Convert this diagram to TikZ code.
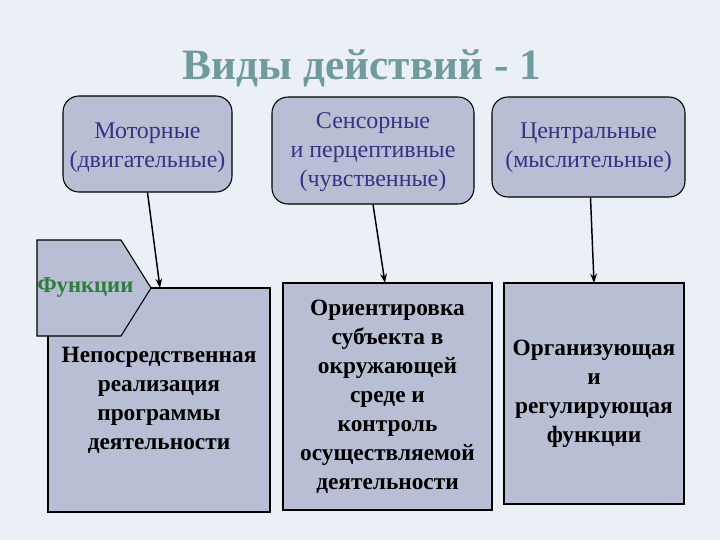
\documentclass[tikz,border=0pt]{standalone}
\usepackage{fontspec}
\setmainfont{Liberation Serif}
\usetikzlibrary{arrows.meta}
\definecolor{bgc}{RGB}{235,240,246}
\definecolor{boxc}{RGB}{184,191,213}
\definecolor{titlec}{RGB}{112,154,156}
\definecolor{topt}{RGB}{52,52,130}
\definecolor{funct}{RGB}{46,125,60}
\tikzset{
  topbox/.style={draw=black, line width=0.8pt, fill=boxc, rounded corners=12pt, align=center, text=topt, font=\fontsize{18}{21.8}\selectfont, inner sep=0pt},
  botbox/.style={draw=black, line width=0.8pt, fill=boxc, align=center, text=black, font=\bfseries\fontsize{17.5}{21.8}\selectfont, inner sep=0pt},
  arr/.style={-{Stealth[length=7pt,width=5pt]}, line width=1.1pt, black}
}
\begin{document}
\begin{tikzpicture}[x=0.75pt,y=-0.75pt]
\fill[bgc] (0,0) rectangle (720,540);
\useasboundingbox (0,0) rectangle (720,540);
\node[text=titlec, font=\bfseries\fontsize{32.5}{36}\selectfont] (title) at (362,68) {Виды действий - 1};
\node[topbox, minimum width=126.75pt, minimum height=72pt] (b1) at (147.5,144) {};
\node[topbox, draw=none, fill=none] (t1) at (147.5,148) {Моторные\\(двигательные)};
\node[topbox, minimum width=151.5pt, minimum height=80.25pt] (b2) at (373,150.5) {};
\node[topbox, draw=none, fill=none] (t2) at (373,152) {Сенсорные\\и перцептивные\\(чувственные)};
\node[topbox, minimum width=144.75pt, minimum height=75pt] (b3) at (588.5,147) {};
\node[topbox, draw=none, fill=none] (t3) at (588.5,148) {Центральные\\(мыслительные)};
\node[botbox, minimum width=166.5pt, minimum height=168pt] (ba) at (159,400) {Непосредственная\\реализация\\программы\\деятельности};
\node[botbox, minimum width=156.75pt, minimum height=170.25pt] (bb) at (387.5,396.5) {Ориентировка\\субъекта в\\окружающей\\среде и\\контроль\\осуществляемой\\деятельности};
\node[botbox, minimum width=135pt, minimum height=165.75pt] (bc) at (594,393.5) {Организующая\\и\\регулирующая\\функции};
\draw[draw=black, line width=0.8pt, fill=boxc] (37,240) -- (121,240) -- (151,288) -- (121,336) -- (37,336) -- cycle;
\node[anchor=west, text=funct, font=\bfseries\fontsize{17}{20}\selectfont, inner sep=0pt] (fn) at (37,288) {Функции};
\coordinate (ea) at (160,288);
\coordinate (eb) at (385,283);
\coordinate (ec) at (594,283);
\draw[arr] (b1.south) -- (ea);
\draw[arr] (b2.south) -- (eb);
\draw[arr] ([xshift=1.5pt]b3.south) -- (ec);
\end{tikzpicture}
\end{document}
